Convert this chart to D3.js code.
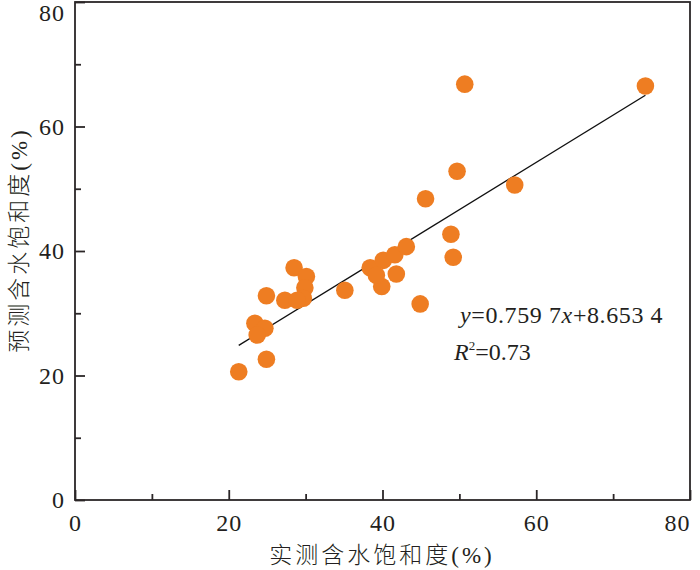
<!DOCTYPE html>
<html><head><meta charset="utf-8">
<script src="https://cdn.jsdelivr.net/npm/d3@7/dist/d3.min.js"></script>
<style>
html,body{margin:0;padding:0;background:#fff;}
svg{display:block;}
</style></head>
<body>
<svg id="chart" width="700" height="570"></svg>
<script>
// measured vs predicted water saturation (%)
const measured = [21.3, 24.9, 23.4, 24.7, 23.7, 24.9, 27.3, 28.5, 30.1, 29.9, 29.7, 28.9,
  35.1, 38.4, 40.1, 41.6, 43.1, 41.8, 39.9, 39.2, 44.9, 48.9, 49.2, 45.6, 49.7, 50.7, 57.2, 74.2];
const predicted = [20.6, 22.6, 28.4, 27.6, 26.5, 32.8, 32.1, 37.3, 35.9, 34.1, 32.4, 32.1,
  33.7, 37.3, 38.5, 39.4, 40.7, 36.3, 34.3, 36.1, 31.5, 42.7, 39.0, 48.4, 52.8, 66.8, 50.6, 66.5];
const fitSlope = 0.7597, fitIntercept = 8.6534;
const fitRange = [21.3, 74.2];
const xTicks = [0, 20, 40, 60, 80];
const yTicks = [0, 20, 40, 60, 80];
const minorTicks = [10, 30, 50, 70];
const xTitle = "实测含水饱和度(%)";
const yTitle = "预测含水饱和度(%)";
const r2Text = "0.73";

const svg = d3.select("#chart");
const L = 75, R = 690, T = 2, B = 500;
const x = d3.scaleLinear().domain([0, 80]).range([L, R]);
const y = d3.scaleLinear().domain([0, 80]).range([B, T]);
const axisColor = "#2b2627";
const numFont = "'Liberation Serif','Times New Roman',serif";
const cjkFont = "'Liberation Serif','Noto Sans CJK SC',serif";

// frame
svg.append("rect").attr("x", L).attr("y", T).attr("width", R - L).attr("height", B - T)
  .attr("fill", "none").attr("stroke", axisColor).attr("stroke-width", 1.8);

// inward ticks
const gx = svg.append("g").attr("transform", `translate(0,${B})`)
  .call(d3.axisBottom(x).tickValues(xTicks).tickSizeInner(-10).tickSizeOuter(0).tickPadding(14).tickFormat(d3.format("d")));
const gxm = svg.append("g").attr("transform", `translate(0,${B})`)
  .call(d3.axisBottom(x).tickValues(minorTicks).tickSizeInner(-6).tickSizeOuter(0).tickFormat(""));
const gy = svg.append("g").attr("transform", `translate(${L},0)`)
  .call(d3.axisLeft(y).tickValues(yTicks).tickSizeInner(-10).tickSizeOuter(0).tickPadding(10).tickFormat(d3.format("d")));
const gym = svg.append("g").attr("transform", `translate(${L},0)`)
  .call(d3.axisLeft(y).tickValues(minorTicks).tickSizeInner(-6).tickSizeOuter(0).tickFormat(""));
[gx, gxm, gy, gym].forEach(g => {
  g.select(".domain").remove();
  g.selectAll("line").attr("stroke", axisColor).attr("stroke-width", 1.8);
  g.selectAll("text").attr("fill", "#231f20").style("font-family", numFont)
    .style("font-size", "24px").style("letter-spacing", "1px");
});
gx.selectAll("text").attr("dy", "0.71em");
gx.selectAll(".tick").filter(d => d === 80).select("text").attr("dx", "-13");
gy.selectAll(".tick").filter(d => d === 80).select("text").attr("dy", "0.75em");

// regression line
svg.append("line")
  .attr("x1", x(fitRange[0])).attr("y1", y(fitSlope * fitRange[0] + fitIntercept))
  .attr("x2", x(fitRange[1])).attr("y2", y(fitSlope * fitRange[1] + fitIntercept))
  .attr("stroke", "#111").attr("stroke-width", 1.4);

// points
const pts = measured.map((m, i) => [m, predicted[i]]);
svg.append("g").selectAll("circle").data(pts).join("circle")
  .attr("cx", d => x(d[0])).attr("cy", d => y(d[1])).attr("r", 8.8)
  .attr("fill", "#ee7d22");

// equation
const eq = svg.append("text").attr("x", 460).attr("y", 323)
  .style("font-family", numFont).style("font-size", "24px").attr("fill", "#231f20")
  .style("letter-spacing", "0.6px");
eq.append("tspan").style("font-style", "italic").text("y");
eq.append("tspan").text("=0.759 7");
eq.append("tspan").style("font-style", "italic").text("x");
eq.append("tspan").text("+8.653 4");

const r2 = svg.append("text").attr("x", 454).attr("y", 360)
  .style("font-family", numFont).style("font-size", "24px").attr("fill", "#231f20");
r2.append("tspan").style("font-style", "italic").text("R");
r2.append("tspan").attr("dy", -10).style("font-size", "13px").text("2");
r2.append("tspan").attr("dy", 10).text("=" + r2Text);

// axis titles
svg.append("text").attr("x", 382).attr("y", 563).attr("text-anchor", "middle")
  .style("font-family", cjkFont).style("font-size", "23px").style("font-weight", 300)
  .style("letter-spacing", "3px").attr("fill", "#231f20").text(xTitle);
svg.append("text").attr("transform", "translate(27,240) rotate(-90)").attr("text-anchor", "middle")
  .style("font-family", cjkFont).style("font-size", "23px").style("font-weight", 300)
  .style("letter-spacing", "3px").attr("fill", "#231f20").text(yTitle);
</script>
</body></html>
